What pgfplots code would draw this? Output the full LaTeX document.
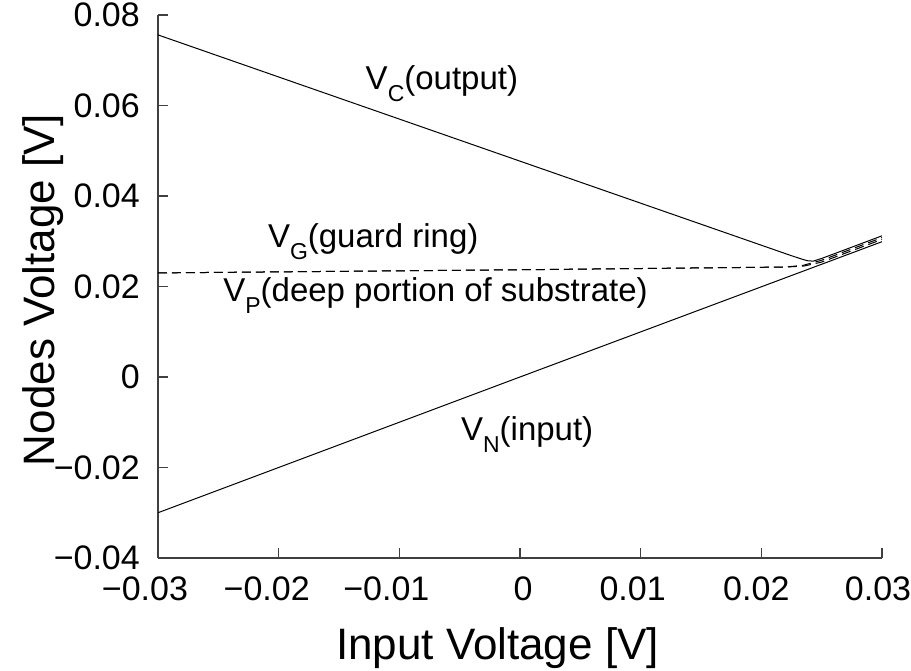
\documentclass[border=0pt]{standalone}
\usepackage{fontspec}
\setmainfont{Liberation Sans}
\usepackage{pgfplots}
\pgfplotsset{compat=1.18}
\newcommand\sub[1]{\raisebox{-0.36em}{\fontsize{23}{23}\selectfont #1}}
\begin{document}
\begin{tikzpicture}
\begin{axis}[
  name=main,
  scale only axis,
  width=724pt, height=543pt,
  xmin=-0.03, xmax=0.03, ymin=-0.04, ymax=0.08,
  scaled ticks=false,
  axis lines=left,
  axis line style={-, line width=1.3pt, black!75},
  tick style={line width=1.1pt, black!75},
  tick align=inside,
  major tick length=10pt,
  xtick={-0.03,-0.02,-0.01,0,0.01,0.02,0.03},
  xticklabels={{−0.03\hspace*{26pt}},{−0.02\hspace*{24pt}},{−0.01\hspace*{26pt}},{\hspace*{6pt}0},{0.01\hspace*{16pt}},{0.02\hspace*{10pt}},{0.03\hspace*{8pt}}},
  ytick={-0.04,-0.02,0,0.02,0.04,0.06,0.08},
  yticklabels={−0.04,−0.02,0,0.02,0.04,0.06,0.08},
  xticklabel style={font=\fontsize{34}{40}\selectfont, inner sep=0pt, anchor=north, yshift=-19pt},
  yticklabel style={font=\fontsize{34}{40}\selectfont, inner sep=0pt, anchor=east, xshift=-18pt},
  xlabel={Input Voltage [V]},
  ylabel={Nodes Voltage [V]},
  xlabel style={font=\fontsize{44}{50}\selectfont, inner sep=0pt, at={(axis description cs:0.4689,-0.1878)}, anchor=base},
  ylabel style={font=\fontsize{44}{50}\selectfont, inner sep=0pt, at={(axis description cs:-0.1423,0.4936)}, anchor=base},
  clip=false,
]
% V_C (output)
\addplot[black, line width=1pt] coordinates {
 (-0.03,0.0756) (0.0,0.0477) (0.0225,0.0268) (0.0233,0.0261) (0.0238,0.0257) (0.0243,0.0256) (0.0250,0.0262) (0.030,0.0312)};
% V_N (input)
\addplot[black, line width=1pt] coordinates {
 (-0.03,-0.0300) (0.0,0.0) (0.030,0.0299)};
% V_G (guard ring)
\addplot[black, line width=1pt, dash pattern=on 9pt off 5pt] coordinates {
 (-0.03,0.0230) (0.0,0.0237) (0.022,0.0243) (0.0235,0.0247) (0.025,0.0258) (0.030,0.0308)};
% V_P (deep portion of substrate)
\addplot[black, line width=1pt, dash pattern=on 9pt off 5pt] coordinates {
 (-0.03,0.0230) (0.0,0.0237) (0.022,0.0243) (0.0235,0.0245) (0.025,0.0254) (0.030,0.0304)};
\node[anchor=base west, inner sep=0pt, font=\fontsize{33}{38}\selectfont] at (axis cs:-0.0128,0.0636) {V\sub{C}(output)};
\node[anchor=base west, inner sep=0pt, font=\fontsize{33}{38}\selectfont] at (axis cs:-0.0209,0.0287) {V\sub{G}(guard ring)};
\node[anchor=base west, inner sep=0pt, font=\fontsize{33}{38}\selectfont] at (axis cs:-0.0246,0.0166) {V\sub{P}(deep portion of substrate)};
\node[anchor=base west, inner sep=0pt, font=\fontsize{33}{38}\selectfont] at (axis cs:-0.0049,-0.0141) {V\sub{N}(input)};
\end{axis}
\pgfresetboundingbox
\path (main.south west) ++(-158pt,-113pt) rectangle ++(911pt,671pt);
\end{tikzpicture}
\end{document}
